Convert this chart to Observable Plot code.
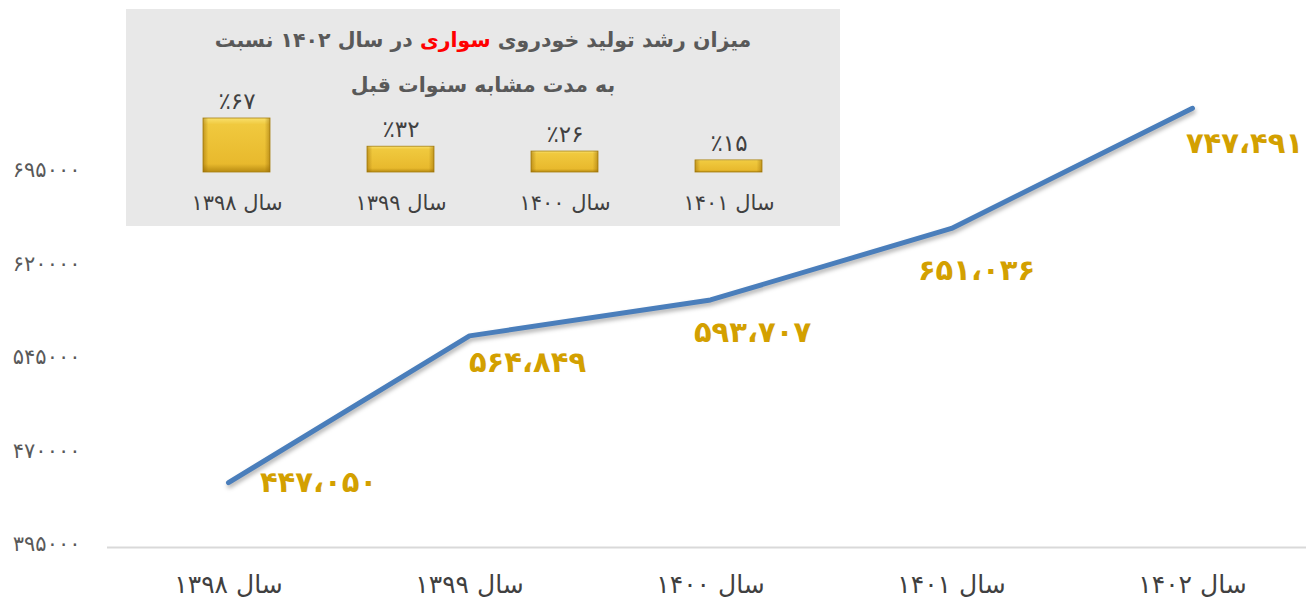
<!DOCTYPE html>
<html><head><meta charset="utf-8">
<script src="https://cdn.jsdelivr.net/npm/d3@7"></script>
<script src="https://cdn.jsdelivr.net/npm/@observablehq/plot@0.6"></script>
<style>
body{margin:0;background:#fff;font-family:"DejaVu Sans";}
#wrap{position:relative;width:1306px;height:601px;overflow:hidden;}
#chart{position:absolute;left:0;top:0;}
#inset{position:absolute;left:126px;top:9px;width:714px;height:217px;background:#e8e8e8;}
#bars{position:absolute;left:0;top:0;}
.t{position:absolute;left:0;width:100%;text-align:center;direction:rtl;font-weight:bold;color:#595959;font-size:20.5px;line-height:26px;font-family:"DejaVu Sans";}
</style></head><body>
<div id="wrap">
  <div id="chart"></div>
  <div id="inset">
    <div id="bars"></div>
    <div class="t" style="top:18px">میزان رشد تولید خودروی <span style="color:#ff0000">سواری</span> در سال ۱۴۰۲ نسبت</div>
    <div class="t" style="top:63px">به مدت مشابه سنوات قبل</div>
  </div>
</div>
<script>
// ---- data ----
const years = ["۱۳۹۸", "۱۳۹۹", "۱۴۰۰", "۱۴۰۱", "۱۴۰۲"];
const production = [447050, 564849, 593707, 651036, 747491];
const yTicks = [395000, 470000, 545000, 620000, 695000];
const growthYears = ["۱۳۹۸", "۱۳۹۹", "۱۴۰۰", "۱۴۰۱"];
const growth = [67, 32, 26, 15];

// ---- helpers ----
const toFa = s => String(s).replace(/\d/g, d => "۰۱۲۳۴۵۶۷۸۹"[d]);
const faNum = v => toFa(d3.format(",")(v)).replace(/,/g, "،");
const rtl = s => "\u202B" + s + "\u202C";

const data = years.map((y, i) => ({year: y, value: production[i]}));
const labelOffsets = [[90, 0], [58, 27], [42, 33], [25, 42], [52, 35]];

const chart = Plot.plot({
  width: 1306, height: 601,
  marginLeft: 107, marginRight: 0, marginTop: 0, marginBottom: 54,
  style: {fontFamily: "DejaVu Sans", background: "transparent", overflow: "visible"},
  x: {type: "point", domain: years, range: [228, 1192], padding: 0, axis: null},
  y: {domain: [395000, 834000], axis: null},
  marks: [
    Plot.ruleY([395000], {stroke: "#d9d9d9", strokeWidth: 2}),
    Plot.text(yTicks, {y: d => d, frameAnchor: "left", textAnchor: "end", dx: -27, dy: -3,
      text: d => toFa(d), fontSize: 21, fill: "#595959"}),
    Plot.text(years, {x: d => d, frameAnchor: "bottom", dy: 45,
      text: d => rtl("سال " + d), fontSize: 25, fill: "#404040"}),
    Plot.line(data, {x: "year", y: "value", stroke: "#4a7ebb", strokeWidth: 5,
      strokeLinecap: "round", strokeLinejoin: "round"}),
    ...labelOffsets.map(([dx, dy], i) => Plot.text(data.filter((d, j) => j === i), {
      x: "year", y: "value", text: d => faNum(d.value), dx, dy,
      fontSize: 29, fontWeight: "bold", fill: "#d3a000"}))
  ]
});
document.getElementById("chart").appendChild(chart);
const lineG = chart.querySelector('g[aria-label="line"]');
if (lineG) lineG.style.filter = "drop-shadow(1px 3px 2px rgba(0,0,0,0.3))";

// ---- inset bars ----
const growthData = growthYears.map((y, i) => ({year: y, pct: growth[i]}));
const bars = Plot.plot({
  width: 714, height: 217,
  marginLeft: 0, marginRight: 0, marginTop: 0, marginBottom: 0,
  style: {fontFamily: "DejaVu Sans", background: "transparent", overflow: "visible"},
  x: {type: "band", domain: growthYears, range: [28, 684], paddingInner: 0.5915, paddingOuter: 0.2957, axis: null},
  y: {domain: [0, 67], range: [163, 109], axis: null},
  marks: [
    Plot.barY(growthData, {x: "year", y: "pct", fill: "url(#goldV)", stroke: "#a88010", strokeWidth: 0.8}),
    Plot.barY(growthData, {x: "year", y: "pct", fill: "url(#goldH)"}),
    Plot.text(growthData, {x: "year", y: "pct", dy: -17, text: d => "٪" + toFa(d.pct), fontSize: 23, fill: "#404040"}),
    Plot.text(growthData, {x: "year", y: 0, dy: 31, text: d => rtl("سال " + d.year), fontSize: 21, fill: "#404040"})
  ]
});
const ns = "http://www.w3.org/2000/svg";
const defs = document.createElementNS(ns, "defs");
defs.innerHTML = `
<linearGradient id="goldV" x1="0" y1="0" x2="0" y2="1">
  <stop offset="0" stop-color="#f9e06c"/>
  <stop offset="0.12" stop-color="#f0c93e"/>
  <stop offset="0.85" stop-color="#e8b92d"/>
  <stop offset="1" stop-color="#b88b12"/>
</linearGradient>
<linearGradient id="goldH" x1="0" y1="0" x2="1" y2="0">
  <stop offset="0" stop-color="rgb(140,95,0)" stop-opacity="0.45"/>
  <stop offset="0.08" stop-color="rgb(140,95,0)" stop-opacity="0"/>
  <stop offset="0.92" stop-color="rgb(140,95,0)" stop-opacity="0"/>
  <stop offset="1" stop-color="rgb(140,95,0)" stop-opacity="0.45"/>
</linearGradient>`;
bars.insertBefore(defs, bars.firstChild);
document.getElementById("bars").appendChild(bars);
</script>
</body></html>
